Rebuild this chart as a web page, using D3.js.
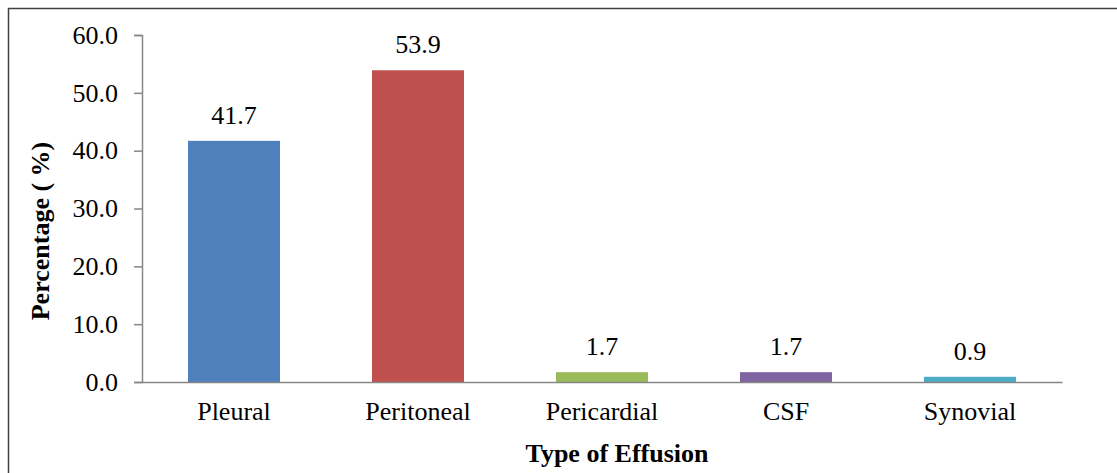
<!DOCTYPE html>
<html>
<head>
<meta charset="utf-8">
<script src="https://cdn.jsdelivr.net/npm/d3@7/dist/d3.min.js"></script>
<style>
  html, body { margin: 0; padding: 0; background: #fff; }
  svg { display: block; }
  text { font-family: "Liberation Serif", "Times New Roman", serif; fill: #000; }
</style>
</head>
<body>
<svg id="chart" width="1117" height="473"></svg>
<script>
const categories = ["Pleural", "Peritoneal", "Pericardial", "CSF", "Synovial"];
const values = [41.7, 53.9, 1.7, 1.7, 0.9];
const colors = ["#4F81BD", "#C0504D", "#9BBB59", "#8064A2", "#4BACC6"];
const yTicks = [0, 10, 20, 30, 40, 50, 60];
const yTitle = "Percentage ( %)";
const xTitle = "Type of Effusion";

const svg = d3.select("#chart");
const fs = 26;

// outer border (top and left visible)
svg.append("rect").attr("x", 8.5).attr("y", 8.5).attr("width", 1140).attr("height", 500)
  .attr("fill", "none").attr("stroke", "#404040").attr("stroke-width", 1.5);

const margin = { left: 142, right: 1062, top: 35, bottom: 382 };
const x = d3.scaleBand().domain(categories).range([margin.left, margin.right]).paddingInner(0.5).paddingOuter(0.25);
const y = d3.scaleLinear().domain([0, 60]).range([margin.bottom, margin.top]);

// bars
svg.selectAll("rect.bar").data(values).enter().append("rect")
  .attr("class", "bar")
  .attr("x", (d, i) => x(categories[i]))
  .attr("width", x.bandwidth())
  .attr("y", d => y(d))
  .attr("height", d => y(0) - y(d))
  .attr("fill", (d, i) => colors[i]);

// y axis
const yAxis = svg.append("g").attr("transform", `translate(${margin.left},0)`)
  .call(d3.axisLeft(y).tickValues(yTicks).tickFormat(d3.format(".1f")).tickSize(8).tickPadding(16));
yAxis.select(".domain").attr("stroke", "#868686").attr("stroke-width", 1.5);
yAxis.selectAll(".tick line").attr("stroke", "#868686").attr("stroke-width", 1.5);
yAxis.selectAll(".tick text").attr("font-size", fs).attr("font-family", "Liberation Serif").attr("fill", "#000");

// x axis
const xAxis = svg.append("g").attr("transform", `translate(0,${margin.bottom})`)
  .call(d3.axisBottom(x).tickSize(0).tickPadding(20));
xAxis.select(".domain").attr("stroke", "#868686").attr("stroke-width", 1.5);
xAxis.selectAll(".tick text").attr("font-size", fs).attr("font-family", "Liberation Serif").attr("fill", "#000")
  .attr("dy", "0.71em");

// value labels
svg.selectAll("text.val").data(values).enter().append("text")
  .attr("class", "val")
  .attr("x", (d, i) => x(categories[i]) + x.bandwidth() / 2)
  .attr("y", d => y(d) - 17)
  .attr("text-anchor", "middle")
  .attr("font-size", fs)
  .text(d => d3.format(".1f")(d));

// axis titles
svg.append("text")
  .attr("transform", `translate(49,231) rotate(-90)`)
  .attr("text-anchor", "middle")
  .attr("font-size", fs)
  .attr("font-weight", "bold")
  .text(yTitle);

svg.append("text")
  .attr("x", 617).attr("y", 462)
  .attr("text-anchor", "middle")
  .attr("font-size", fs)
  .attr("font-weight", "bold")
  .text(xTitle);
</script>
</body>
</html>
